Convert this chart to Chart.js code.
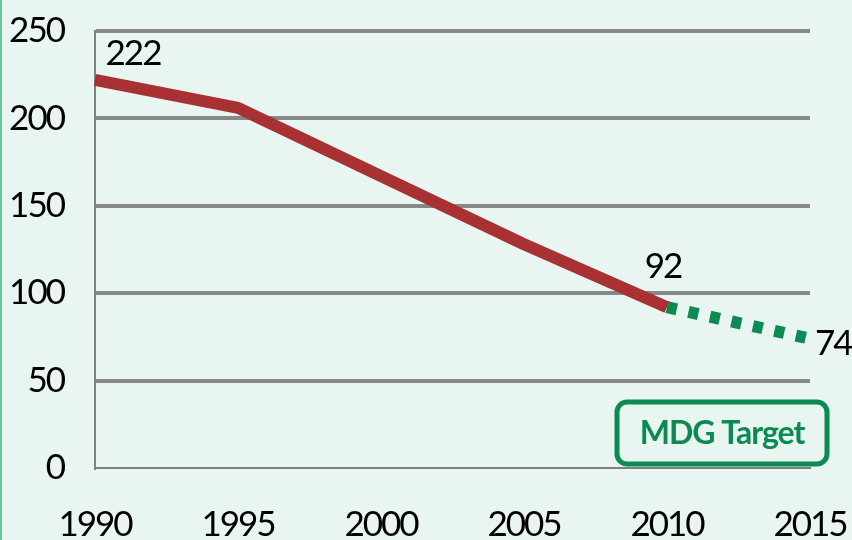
<!DOCTYPE html>
<html>
<head>
<meta charset="utf-8">
<script src="https://cdn.jsdelivr.net/npm/chart.js@4"></script>
<style>
  html, body { margin: 0; padding: 0; background: #e8f5f0; }
  #wrap { width: 852px; height: 540px; position: relative; }
</style>
</head>
<body>
<div id="wrap"><canvas id="mdgChart" width="852" height="540"></canvas></div>
<script>
// Data
const years = ['1990', '1995', '2000', '2005', '2010', '2015'];
const actualValues = [222, 206, 167, 128, 92, null];
const targetValues = [null, null, null, null, 92, 74];
const yTicks = [0, 50, 100, 150, 200, 250];

const FONT = 'Lato, "Open Sans", sans-serif';
const FONT_SIZE = 35;

// Buang padding otomatis dari label sumbu supaya area plot pas
function noOverflow(scale) {
    scale.paddingLeft = 0;
    scale.paddingRight = 0;
    scale.paddingTop = 0;
    scale.paddingBottom = 0;
}

// Background, green left edge, value labels and MDG box
const decorPlugin = {
    id: 'decor',
    beforeDraw(chart) {
        const ctx = chart.ctx;
        ctx.save();
        ctx.fillStyle = '#e8f5f0';
        ctx.fillRect(0, 0, chart.width, chart.height);
        ctx.fillStyle = '#6cc39a';
        ctx.fillRect(0, 0, 2, chart.height);
        ctx.restore();
        // huruf lebih rapat, mirip Calibri
        ctx.letterSpacing = '-2px';
    },
    afterDatasetsDraw(chart) {
        const ctx = chart.ctx;
        const red = chart.getDatasetMeta(0).data;
        const green = chart.getDatasetMeta(1).data;
        ctx.save();
        ctx.letterSpacing = '-2px';
        ctx.fillStyle = '#000';
        ctx.font = FONT_SIZE + 'px ' + FONT;
        ctx.textBaseline = 'middle';

        ctx.textAlign = 'center';
        ctx.fillText(String(actualValues[0]), red[0].x + 38, red[0].y - 26);
        ctx.fillText(String(actualValues[4]), red[4].x - 4, red[4].y - 40);

        ctx.textAlign = 'left';
        ctx.fillText(String(targetValues[5]), green[5].x + 5, green[5].y + 5);

        // Kotak "MDG Target"
        const area = chart.chartArea;
        const bx = area.right - 193, by = area.bottom - 66, bw = 210, bh = 62;
        ctx.beginPath();
        ctx.roundRect(bx, by, bw, bh, 10);
        ctx.lineWidth = 5;
        ctx.strokeStyle = '#0b8a52';
        ctx.fillStyle = '#e8f5f0';
        ctx.fill();
        ctx.stroke();
        ctx.fillStyle = '#0b8a52';
        ctx.letterSpacing = '-1px';
        ctx.font = 'bold 32px ' + FONT;
        ctx.textAlign = 'center';
        ctx.fillText('MDG Target', bx + bw / 2, by + bh / 2 + 1);
        ctx.restore();
    }
};

new Chart(document.getElementById('mdgChart'), {
    type: 'line',
    data: {
        labels: years,
        datasets: [{
            data: actualValues,
            borderColor: '#a83133',
            borderWidth: 12,
            borderCapStyle: 'butt',
            borderJoinStyle: 'round',
            pointRadius: 0,
            tension: 0
        }, {
            data: targetValues,
            borderColor: '#0b8a52',
            borderWidth: 12,
            borderDash: [10, 12],
            borderCapStyle: 'butt',
            pointRadius: 0,
            tension: 0
        }]
    },
    options: {
        responsive: false,
        animation: false,
        layout: { padding: { top: 31, right: 42, left: 0, bottom: 0 } },
        plugins: {
            legend: { display: false },
            tooltip: { enabled: false }
        },
        scales: {
            x: {
                offset: false,
                grid: { display: false, drawTicks: false },
                border: { display: true, color: '#808080', width: 2 },
                ticks: {
                    color: '#000',
                    font: { family: FONT, size: FONT_SIZE },
                    padding: 36,
                    maxRotation: 0
                },
                afterFit(scale) { scale.height = 72; noOverflow(scale); }
            },
            y: {
                min: 0,
                max: 250,
                afterBuildTicks(scale) {
                    scale.ticks = yTicks.map(v => ({ value: v }));
                },
                grid: {
                    color: ctx => ctx.tick.value === 0 ? 'rgba(0,0,0,0)' : '#888888',
                    lineWidth: 4,
                    drawTicks: false
                },
                border: { display: true, color: '#808080', width: 2 },
                ticks: {
                    color: '#000',
                    font: { family: FONT, size: FONT_SIZE },
                    padding: 31
                },
                afterFit(scale) { scale.width = 95; noOverflow(scale); }
            }
        }
    },
    plugins: [decorPlugin]
});
</script>
</body>
</html>
